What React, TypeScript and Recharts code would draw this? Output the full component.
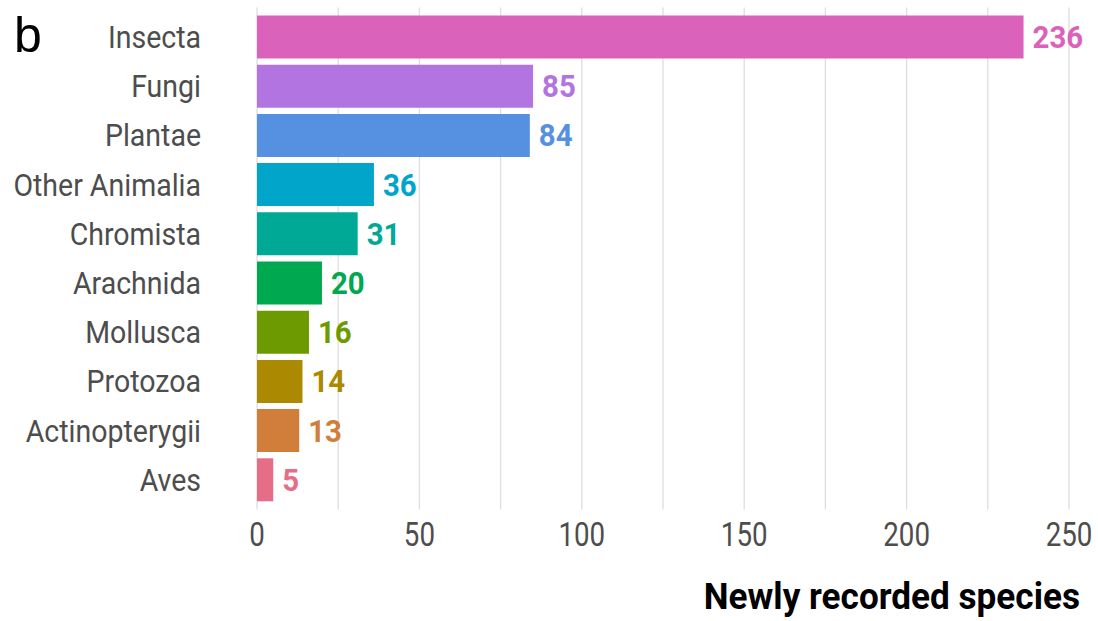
import React from 'react';
import { BarChart, Bar, XAxis, YAxis, CartesianGrid, Cell, LabelList } from 'recharts';

const taxa = ['Insecta', 'Fungi', 'Plantae', 'Other Animalia', 'Chromista', 'Arachnida', 'Mollusca', 'Protozoa', 'Actinopterygii', 'Aves'];
const counts = [236, 85, 84, 36, 31, 20, 16, 14, 13, 5];
const colors = ['#DB62BA', '#B274E0', '#5590E1', '#00A5C9', '#00A995', '#00A84F', '#6C9A00', '#AB8900', '#D07E3A', '#E66D88'];
const xTicks = [0, 25, 50, 75, 100, 125, 150, 175, 200, 225, 250];

const data = taxa.map((name, i) => ({ name, value: counts[i], color: colors[i] }));

const FONT = 'Roboto, "Noto Sans", sans-serif';

// no Roboto Condensed offline, so squeeze regular Roboto horizontally
function CondText({ x, y, anchor, size, weight, fill, squeeze = 0.9, children }: any) {
  return (
    <text
      transform={`translate(${x},${y}) scale(${squeeze},1)`}
      textAnchor={anchor}
      dominantBaseline="central"
      fontFamily={FONT}
      fontSize={size}
      fontWeight={weight}
      fill={fill}
    >
      {children}
    </text>
  );
}

const YTick = ({ x, y, payload }: any) => (
  <CondText x={x} y={y} anchor="end" size={31} squeeze={0.92} weight={400} fill="#4D4D4D">
    {payload.value}
  </CondText>
);

const XTick = ({ x, y, payload }: any) =>
  payload.value % 50 === 0 ? (
    <CondText x={x} y={y} anchor="middle" size={33} squeeze={0.84} weight={400} fill="#4D4D4D">
      {payload.value}
    </CondText>
  ) : null;

const ValueLabel = ({ x, y, width, height, value, index }: any) => (
  <CondText x={x + width + 9} y={y + height / 2} anchor="start" size={32} squeeze={0.92} weight={700} fill={colors[index]}>
    {value}
  </CondText>
);

export default function App() {
  return (
    <div style={{ position: 'absolute', left: 0, top: 0, width: 1098, height: 621, background: '#fff' }}>
      <div
        style={{
          position: 'absolute',
          left: 14,
          top: 10,
          fontFamily: '"Liberation Sans", Arial, sans-serif',
          fontSize: 50,
          lineHeight: '50px',
          color: '#000',
        }}
      >
        b
      </div>
      <BarChart
        width={1098}
        height={621}
        data={data}
        layout="vertical"
        margin={{ top: 7.5, right: 29, bottom: 0, left: 0 }}
      >
        <CartesianGrid horizontal={false} stroke="#DEDEDE" strokeWidth={1.3} />
        <XAxis
          type="number"
          domain={[0, 250]}
          ticks={xTicks}
          interval={0}
          axisLine={false}
          tickLine={false}
          tickSize={0}
          tickMargin={25.5}
          height={111.5}
          tick={<XTick />}
          label={() => (
            <CondText x={1080} y={597} anchor="end" size={37} squeeze={0.95} weight={700} fill="#000">
              Newly recorded species
            </CondText>
          )}
        />
        <YAxis
          type="category"
          dataKey="name"
          width={257}
          axisLine={false}
          tickLine={false}
          tickSize={0}
          tickMargin={56}
          interval={0}
          padding={{ top: 5, bottom: 5 }}
          tick={<YTick />}
        />
        <Bar dataKey="value" barSize={43} isAnimationActive={false}>
          {data.map((d) => (
            <Cell key={d.name} fill={d.color} />
          ))}
          <LabelList dataKey="value" content={<ValueLabel />} />
        </Bar>
      </BarChart>
    </div>
  );
}
